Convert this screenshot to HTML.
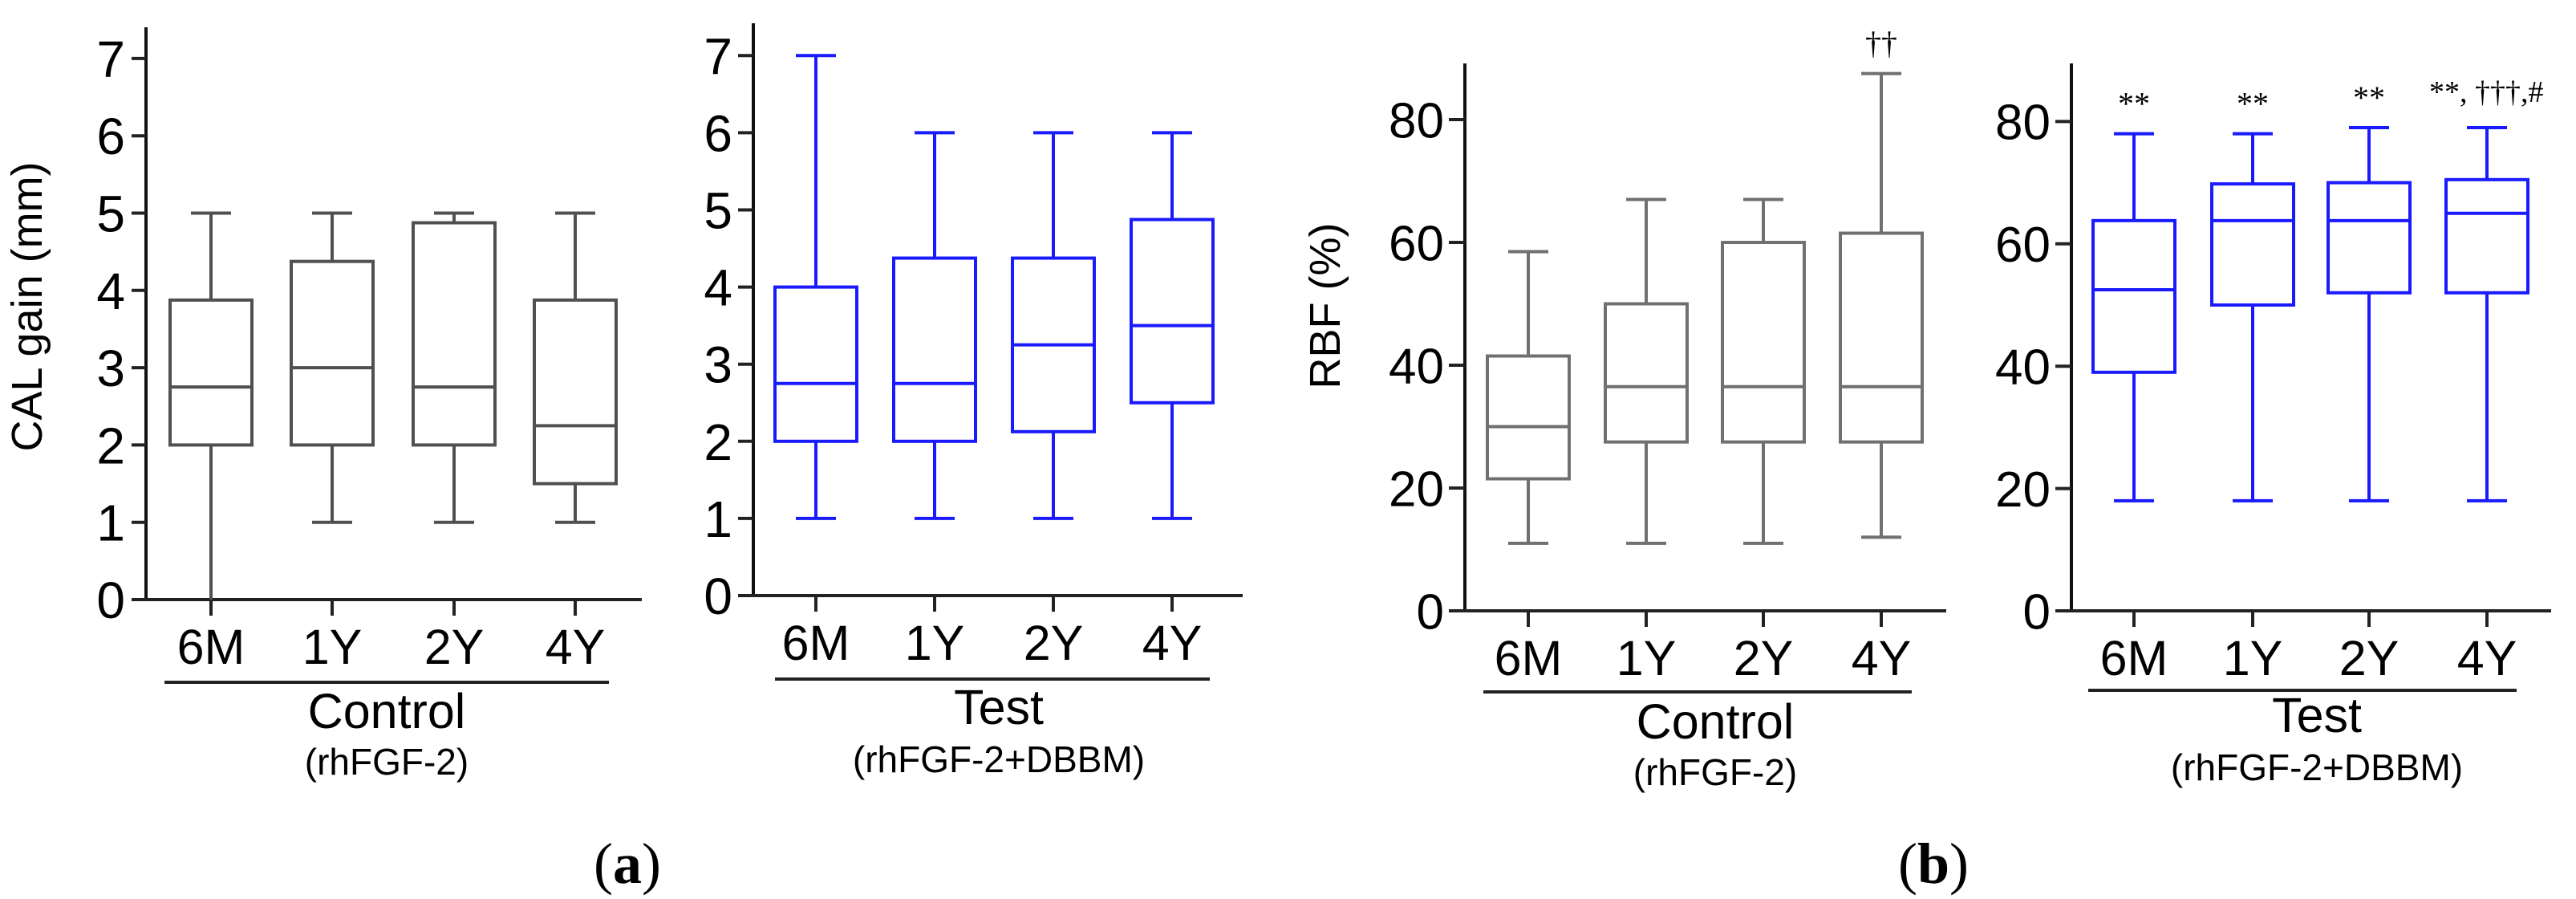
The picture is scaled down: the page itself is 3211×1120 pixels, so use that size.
<!DOCTYPE html>
<html><head><meta charset="utf-8"><style>
html,body{margin:0;padding:0;background:#fff;}
svg{display:block;}
text{font-family:"Liberation Sans",Arial,sans-serif;}
.ser{font-family:"Liberation Serif","Times New Roman",serif;}
</style></head><body>
<svg id="fig" width="3211" height="1120" viewBox="0 0 3211 1120" xmlns="http://www.w3.org/2000/svg"></svg>
<script>
const categories = ["6M","1Y","2Y","4Y"];
// [min, q1, median, q3, max]
const calControl = [[0,2,2.75,3.875,5],[1,2,3,4.375,5],[1,2,2.75,4.875,5],[1,1.5,2.25,3.875,5]];
const calTest = [[1,2,2.75,4,7],[1,2,2.75,4.375,6],[1,2.125,3.25,4.375,6],[1,2.5,3.5,4.875,6]];
const rbfControl = [[11,21.5,30,41.5,58.5],[11,27.5,36.5,50,67],[11,27.5,36.5,60,67],[12,27.5,36.5,61.5,87.5]];
const rbfTest = [[18,39,52.5,63.8,78],[18,50,63.8,69.8,78],[18,52,63.8,70,79],[18,52,65,70.5,79]];
const calTicks = [0,1,2,3,4,5,6,7];
const rbfTicks = [0,20,40,60,80];
const rbfControlNotes = ["","","","††"];
const rbfTestNotes = ["**","**","**","**, †††,#"];

const NS="http://www.w3.org/2000/svg";
const svg=document.getElementById('fig');
function el(tag,attrs,parent){const e=document.createElementNS(NS,tag);for(const k in attrs)e.setAttribute(k,attrs[k]);(parent||svg).appendChild(e);return e;}

const panels=[
 {id:'cal-control',ax:182,y0:747,ymax:7,unitPx:96.3,top:34,xEnd:800,xStart:164,cats:[263,414,566,717],data:calControl,ticks:calTicks,color:'#505050',tickColor:'#222',fs:64,
  ul:[205,759,850],g1:'Control',g1y:907,g2:'(rhFGF-2)',g2y:965,gx:482,notes:null},
 {id:'cal-test',ax:939,y0:742,ymax:7,unitPx:96.1,top:29,xEnd:1549,xStart:920,cats:[1017,1165,1313,1461],data:calTest,ticks:calTicks,color:'#1a1aff',tickColor:'#222',fs:64,
  ul:[966,1508,846],g1:'Test',g1y:902,g2:'(rhFGF-2+DBBM)',g2y:962,gx:1245,notes:null},
 {id:'rbf-control',ax:1826,y0:761,ymax:80,unitPx:7.65,top:79,xEnd:2426,xStart:1806,cats:[1905,2052,2198,2345],data:rbfControl,ticks:rbfTicks,color:'#707070',tickColor:'#222',fs:62,
  ul:[1849,2383,862],g1:'Control',g1y:920,g2:'(rhFGF-2)',g2y:978,gx:2138,notes:rbfControlNotes},
 {id:'rbf-test',ax:2582,y0:761,ymax:80,unitPx:7.62,top:79,xEnd:3180,xStart:2562,cats:[2660,2808,2953,3100],data:rbfTest,ticks:rbfTicks,color:'#1a1aff',tickColor:'#222',fs:62,
  ul:[2603,3137,860],g1:'Test',g1y:912,g2:'(rhFGF-2+DBBM)',g2y:972,gx:2888,notes:rbfTestNotes}
];

panels.forEach(p=>{
  const g=el('g',{});
  
  
  const y=v=>p.y0-v*p.unitPx;
  const ya=el('line',{x1:p.ax,y1:p.top,x2:p.ax,y2:p.y0+2,stroke:'#111','stroke-width':4},g);
  
  
  const xa=el('line',{x1:p.xStart,y1:p.y0,x2:p.xEnd,y2:p.y0,stroke:'#222','stroke-width':4},g);
  
  
  p.ticks.forEach(t=>{
    if(t>0){el('line',{x1:p.xStart,y1:y(t),x2:p.ax,y2:y(t),stroke:p.tickColor,'stroke-width':4},g);}
    const tl=el('text',{x:p.ax-26,y:y(t)+p.fs*0.36,'font-size':p.fs,'text-anchor':'end',fill:'#000'},g);
    tl.textContent=t;
    
    
  });
  p.cats.forEach((cx,i)=>{
    el('line',{x1:cx,y1:p.y0,x2:cx,y2:p.y0+20,stroke:p.tickColor,'stroke-width':4},g);
    const cl=el('text',{x:cx,y:p.y0+80,'font-size':61,'text-anchor':'middle',fill:'#000'},g);
    cl.textContent=categories[i];
    
    
    const d=p.data[i];
    const bg=el('g',{stroke:p.color,'stroke-width':4,fill:'none'},g);
    
    
    el('line',{x1:cx,y1:y(d[0]),x2:cx,y2:y(d[1])},bg);
    el('line',{x1:cx,y1:y(d[3]),x2:cx,y2:y(d[4])},bg);
    if(d[0]>0)el('line',{x1:cx-25,y1:y(d[0]),x2:cx+25,y2:y(d[0])},bg);
    el('line',{x1:cx-25,y1:y(d[4]),x2:cx+25,y2:y(d[4])},bg);
    el('rect',{x:cx-51,y:y(d[3]),width:102,height:y(d[1])-y(d[3])},bg);
    el('line',{x1:cx-51,y1:y(d[2]),x2:cx+51,y2:y(d[2])},bg);
    if(p.notes&&p.notes[i]){
      const long=p.notes[i].length>3;
      const n=el('text',{x:long?cx-72:cx,y:y(d[4])-(long?32:24),'font-size':long?38:40,'text-anchor':long?'start':'middle',fill:'#000','class':'ser'},g);
      n.textContent=p.notes[i];
      
      
    }
  });
  const u=el('line',{x1:p.ul[0],y1:p.ul[2],x2:p.ul[1],y2:p.ul[2],stroke:'#222','stroke-width':4},g);
  
  
  const t1=el('text',{x:p.gx,y:p.g1y,'font-size':61,'text-anchor':'middle',fill:'#000'},g);
  t1.textContent=p.g1;
  
  
  const t2=el('text',{x:p.gx,y:p.g2y,'font-size':46,'text-anchor':'middle',fill:'#000'},g);
  t2.textContent=p.g2;
  
  
});

const yl1=el('text',{x:0,y:0,'font-size':54,'text-anchor':'middle',fill:'#000',transform:'translate(52,382) rotate(-90)'});
yl1.textContent='CAL gain (mm)';


const yl2=el('text',{x:0,y:0,'font-size':54,'text-anchor':'middle',fill:'#000',transform:'translate(1670,381) rotate(-90)','xml:space':'preserve'});
yl2.textContent='RBF  (%)';



const la=el('text',{x:782,y:1100,'font-size':72,'text-anchor':'middle',fill:'#000','class':'ser'});
la.innerHTML='(<tspan font-weight="bold">a</tspan>)';


const lb=el('text',{x:2410,y:1100,'font-size':72,'text-anchor':'middle',fill:'#000','class':'ser'});
lb.innerHTML='(<tspan font-weight="bold">b</tspan>)';


</script>
</body></html>
